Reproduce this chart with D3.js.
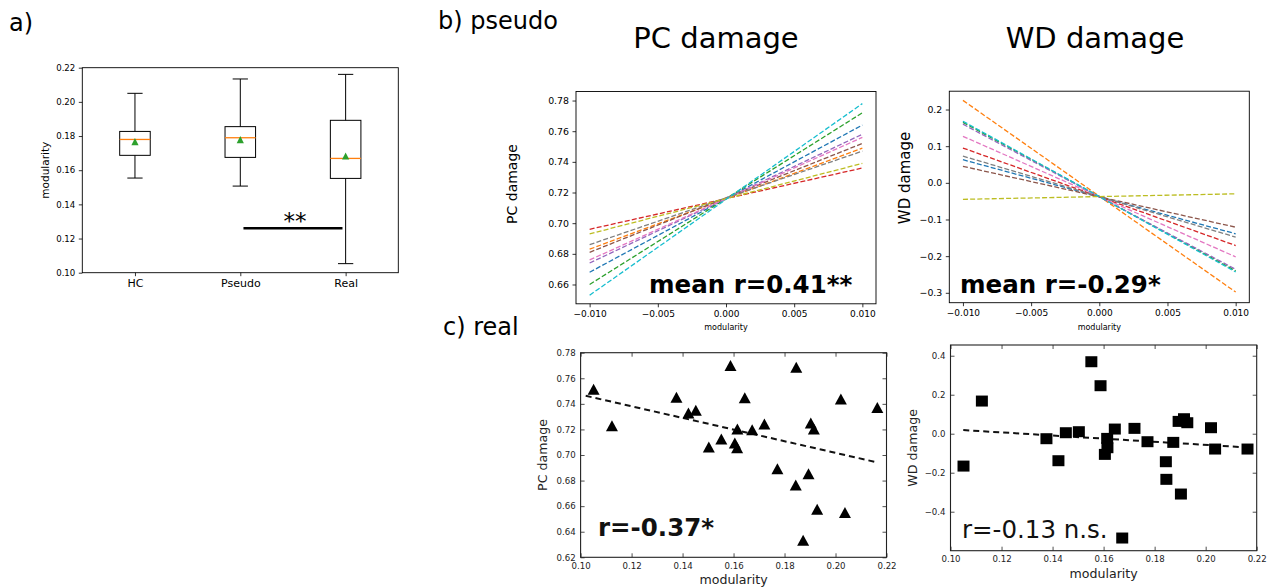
<!DOCTYPE html>
<html>
<head>
<meta charset="utf-8">
<script src="https://cdn.jsdelivr.net/npm/d3@7"></script>
<style>
  body { margin: 0; background: #fff; }
  svg { font-family: "DejaVu Sans", sans-serif; display: block; }
</style>
</head>
<body>
<svg id="fig" width="1279" height="588"></svg>
<script>
// ---- a) box plot of modularity ----
const groups = ["HC", "Pseudo", "Real"];
const whiskerLow  = [0.1554, 0.1507, 0.1053];
const q1          = [0.1687, 0.1675, 0.1552];
const medians     = [0.1780, 0.1790, 0.1669];
const q3          = [0.1827, 0.1855, 0.1892];
const whiskerHigh = [0.2050, 0.2134, 0.2161];
const means       = [0.1767, 0.1779, 0.1683];
const sigBarX = [2.03, 2.97];
const sigBarY = 0.126;

// ---- b) pseudo: fitted lines, value at modularity -0.01 and +0.01 ----
const lineColors = ["#1f77b4", "#ff7f0e", "#2ca02c", "#d62728", "#9467bd",
                    "#8c564b", "#e377c2", "#7f7f7f", "#bcbd22", "#17becf"];
const lineX = [-0.01, 0.01];
const pcStart = [0.668, 0.683, 0.660, 0.696, 0.674, 0.681, 0.676, 0.686, 0.693, 0.653];
const pcEnd   = [0.764, 0.749, 0.772, 0.736, 0.758, 0.752, 0.756, 0.747, 0.739, 0.778];
const wdStart = [0.063, 0.225, 0.165, 0.095, 0.160, 0.045, 0.127, 0.073, -0.045, 0.168];
const wdEnd   = [-0.139, -0.298, -0.240, -0.171, -0.236, -0.121, -0.202, -0.148, -0.030, -0.243];

// ---- c) real subjects ----
const modularity = [0.1051, 0.1123, 0.1376, 0.1423, 0.1452, 0.1503, 0.1552, 0.1588, 0.1605,
                    0.1614, 0.1615, 0.1644, 0.1673, 0.1721, 0.1772, 0.1844, 0.1846, 0.1873,
                    0.1894, 0.1903, 0.1915, 0.1928, 0.2021, 0.2037, 0.2164];
const pcDamage = [0.7515, 0.7229, 0.7452, 0.7328, 0.7349, 0.7063, 0.7126, 0.7699, 0.7094,
                  0.7056, 0.7203, 0.7447, 0.7198, 0.7242, 0.6892, 0.6765, 0.7686, 0.6334,
                  0.6853, 0.7250, 0.7203, 0.6576, 0.7437, 0.6550, 0.7372];
const wdDamage = [-0.166, 0.1675, -0.0256, -0.1385, 0.0051, 0.0103, 0.3692, 0.2462, -0.106,
                  -0.024, -0.0718, 0.0239, -0.535, 0.0274, -0.041, -0.1436, -0.234, -0.0444,
                  0.0632, -0.3094, 0.0769, 0.0564, 0.0308, -0.0786, -0.0786];
const pcFitX = [0.102, 0.216], pcFitY = [0.7463, 0.6944];
const wdFitX = [0.105, 0.216], wdFitY = [0.0188, -0.0701];

const svg = d3.select("#fig");
const FONT = "DejaVu Sans";

function styleAxis(g, size, color) {
  g.attr("font-family", FONT).attr("font-size", size);
  g.select(".domain").remove();
  g.selectAll("text").attr("fill", color || "#000");
  g.selectAll("line").attr("stroke", color || "#000").attr("stroke-width", 0.8);
}

function frame(g, b, color, w) {
  g.append("rect")
    .attr("x", b.left).attr("y", b.top)
    .attr("width", b.right - b.left).attr("height", b.bottom - b.top)
    .attr("fill", "none").attr("stroke", color).attr("stroke-width", w);
}

function vlabel(g, text, x, y, size, color) {
  g.append("text")
    .attr("transform", `translate(${x},${y}) rotate(-90)`)
    .attr("text-anchor", "middle").attr("dy", "0.35em")
    .attr("font-size", size).attr("fill", color || "#000")
    .text(text);
}

// panel letters
svg.append("text").attr("x", 9).attr("y", 31).attr("font-size", 24).text("a)");
svg.append("text").attr("x", 438).attr("y", 29).attr("font-size", 24).text("b) pseudo");
svg.append("text").attr("x", 443).attr("y", 335).attr("font-size", 24).text("c) real");

// ================= panel a =================
{
  const b = {left: 82.3, right: 398.3, top: 67.7, bottom: 272.7};
  const x = d3.scaleLinear().domain([0.5, 3.5]).range([b.left, b.right]);
  const y = d3.scaleLinear().domain([0.10, 0.22]).range([b.bottom, b.top]);
  const g = svg.append("g");

  g.append("g").attr("transform", `translate(0,${b.bottom})`)
    .call(d3.axisBottom(x).tickValues([1, 2, 3]).tickFormat(d => groups[d - 1])
      .tickSize(3.5).tickPadding(3.5))
    .call(s => styleAxis(s, 11));
  g.append("g").attr("transform", `translate(${b.left},0)`)
    .call(d3.axisLeft(y).tickValues(d3.range(6 + 1).map(i => 0.10 + i * 0.02))
      .tickFormat(d3.format(".2f")).tickSize(3.5).tickPadding(3.5))
    .call(s => styleAxis(s, 8.6));
  vlabel(g, "modularity", 45, y(0.16), 10.5);

  const boxW = 0.29;
  groups.forEach((name, i) => {
    const cx = x(i + 1);
    const half = (x(boxW) - x(0)) / 2;
    const cap = half / 2;
    g.append("line").attr("x1", cx).attr("x2", cx).attr("y1", y(whiskerLow[i])).attr("y2", y(q1[i]))
      .attr("stroke", "#000").attr("stroke-width", 1);
    g.append("line").attr("x1", cx).attr("x2", cx).attr("y1", y(q3[i])).attr("y2", y(whiskerHigh[i]))
      .attr("stroke", "#000").attr("stroke-width", 1);
    [whiskerLow[i], whiskerHigh[i]].forEach(v => {
      g.append("line").attr("x1", cx - cap).attr("x2", cx + cap).attr("y1", y(v)).attr("y2", y(v))
        .attr("stroke", "#000").attr("stroke-width", 1);
    });
    g.append("rect").attr("x", cx - half).attr("y", y(q3[i]))
      .attr("width", half * 2).attr("height", y(q1[i]) - y(q3[i]))
      .attr("fill", "none").attr("stroke", "#000").attr("stroke-width", 1);
    g.append("line").attr("x1", cx - half).attr("x2", cx + half)
      .attr("y1", y(medians[i])).attr("y2", y(medians[i]))
      .attr("stroke", "#ff7f0e").attr("stroke-width", 1.3);
    g.append("path").attr("d", "M0,-3.6L3.6,3.6L-3.6,3.6Z")
      .attr("transform", `translate(${cx},${y(means[i])})`).attr("fill", "#2ca02c");
  });

  g.append("line").attr("x1", x(sigBarX[0])).attr("x2", x(sigBarX[1]))
    .attr("y1", y(sigBarY)).attr("y2", y(sigBarY))
    .attr("stroke", "#000").attr("stroke-width", 2.5);
  g.append("text").attr("x", x((sigBarX[0] + sigBarX[1]) / 2) + 2).attr("y", y(sigBarY) + 1)
    .attr("text-anchor", "middle").attr("font-size", 23).text("**");

  frame(g, b, "#000", 0.9);
}

// ================= panel b =================
function pseudoPanel(b, yDomain, yTicks, yFmt, starts, ends, title, titleX, ylab, ylabX, ylabY, ylabSize, stat) {
  const x = d3.scaleLinear().domain([-0.011, 0.011]).range([b.left, b.right]);
  const y = d3.scaleLinear().domain(yDomain).range([b.bottom, b.top]);
  const g = svg.append("g");

  g.append("g").attr("transform", `translate(0,${b.bottom})`)
    .call(d3.axisBottom(x).tickValues([-0.01, -0.005, 0, 0.005, 0.01])
      .tickFormat(d3.format(".3f")).tickSize(3.5).tickPadding(3.5))
    .call(s => styleAxis(s, 9));
  g.append("g").attr("transform", `translate(${b.left},0)`)
    .call(d3.axisLeft(y).tickValues(yTicks).tickFormat(d3.format(yFmt))
      .tickSize(3.5).tickPadding(3.5))
    .call(s => styleAxis(s, 9.4));

  starts.forEach((v, i) => {
    g.append("line")
      .attr("x1", x(lineX[0])).attr("y1", y(v))
      .attr("x2", x(lineX[1])).attr("y2", y(ends[i]))
      .attr("stroke", lineColors[i]).attr("stroke-width", 1.3)
      .attr("stroke-dasharray", "5,2.2");
  });

  frame(g, b, "#000", 0.9);

  g.append("text").attr("x", titleX).attr("y", 47.7).attr("text-anchor", "middle")
    .attr("font-size", 29).text(title);
  g.append("text").attr("x", (b.left + b.right) / 2).attr("y", 330).attr("text-anchor", "middle")
    .attr("font-size", 8).text("modularity");
  vlabel(g, ylab, ylabX, ylabY, ylabSize);
  g.append("text").attr("x", stat.x).attr("y", 292.7).attr("font-size", 24.5)
    .attr("font-weight", "bold").text(stat.text);
}

pseudoPanel({left: 576, right: 876, top: 91.5, bottom: 303.8}, [0.6474, 0.7859],
  d3.range(7).map(i => 0.66 + i * 0.02), ".2f", pcStart, pcEnd,
  "PC damage", 716, "PC damage", 512, 184, 14, {x: 649, text: "mean r=0.41**"});
pseudoPanel({left: 949.3, right: 1249.3, top: 91.2, bottom: 302.7}, [-0.327, 0.25],
  [-0.3, -0.2, -0.1, 0, 0.1, 0.2], ".1f", wdStart, wdEnd,
  "WD damage", 1095, "WD damage", 905, 178, 15, {x: 960, text: "mean r=-0.29*"});

// ================= panel c =================
function realPanel(b, yDomain, yTicks, yFmt, values, marker, fitX, fitY, ylab, ylabX, xlabY, stat) {
  const ink = "#222";
  const x = d3.scaleLinear().domain([0.10, 0.22]).range([b.left, b.right]);
  const y = d3.scaleLinear().domain(yDomain).range([b.bottom, b.top]);
  const g = svg.append("g");
  const xt = d3.range(7).map(i => 0.10 + i * 0.02);

  g.append("g").attr("transform", `translate(0,${b.bottom})`)
    .call(d3.axisBottom(x).tickValues(xt).tickFormat(d3.format(".2f")).tickSize(-4).tickPadding(5.6))
    .call(s => styleAxis(s, 8.6, ink));
  g.append("g").attr("transform", `translate(0,${b.top})`)
    .call(d3.axisTop(x).tickValues(xt).tickFormat("").tickSize(-4))
    .call(s => styleAxis(s, 8.6, ink));
  g.append("g").attr("transform", `translate(${b.left},0)`)
    .call(d3.axisLeft(y).tickValues(yTicks).tickFormat(d3.format(yFmt)).tickSize(-4).tickPadding(5))
    .call(s => styleAxis(s, 8.6, ink));
  g.append("g").attr("transform", `translate(${b.right},0)`)
    .call(d3.axisRight(y).tickValues(yTicks).tickFormat("").tickSize(-4))
    .call(s => styleAxis(s, 8.6, ink));

  g.append("line")
    .attr("x1", x(fitX[0])).attr("y1", y(fitY[0]))
    .attr("x2", x(fitX[1])).attr("y2", y(fitY[1]))
    .attr("stroke", "#111").attr("stroke-width", 2).attr("stroke-dasharray", "6,4");

  g.selectAll(".mk").data(values).join("path")
    .attr("d", marker)
    .attr("transform", (d, i) => `translate(${x(modularity[i])},${y(d)})`)
    .attr("fill", "#000");

  frame(g, b, ink, 1.1);

  g.append("text").attr("x", (b.left + b.right) / 2).attr("y", xlabY).attr("text-anchor", "middle")
    .attr("font-size", 12.6).attr("fill", ink).text("modularity");
  vlabel(g, ylab, ylabX, (b.top + b.bottom) / 2, 12.6, ink);
  g.append("text").attr("x", stat.x).attr("y", stat.y).attr("font-size", 24.5)
    .attr("font-weight", stat.bold ? "bold" : "normal").attr("fill", "#111").text(stat.text);
}

realPanel({left: 580.6, right: 886.5, top: 352.7, bottom: 557.3}, [0.62, 0.78],
  d3.range(9).map(i => 0.62 + i * 0.02), ".2f", pcDamage,
  "M0,-5.5L6,5.5L-6,5.5Z", pcFitX, pcFitY, "PC damage", 543, 584,
  {x: 598, y: 536, text: "r=-0.37*", bold: true});
realPanel({left: 950.5, right: 1256.7, top: 345, bottom: 550.7}, [-0.6, 0.455],
  [-0.4, -0.2, 0, 0.2, 0.4], ".1f", wdDamage,
  "M-6,-5.5H6V5.5H-6Z", wdFitX, wdFitY, "WD damage", 913, 578,
  {x: 962, y: 538, text: "r=-0.13 n.s.", bold: false});
</script>
</body>
</html>
